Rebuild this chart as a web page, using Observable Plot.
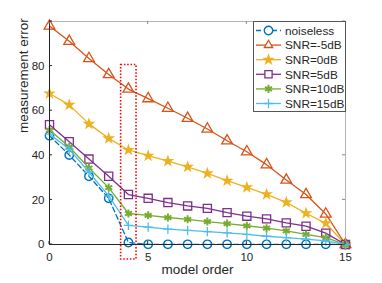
<!DOCTYPE html>
<html><head><meta charset="utf-8">
<script src="https://cdn.jsdelivr.net/npm/d3@7"></script>
<script src="https://cdn.jsdelivr.net/npm/@observablehq/plot@0.6"></script>
<style>
html,body{margin:0;padding:0;background:#fff}
#chart svg{font-family:"Liberation Sans",Arial,Helvetica,sans-serif}
</style>
</head><body><div id="chart"></div>
<script>
const modelOrder = [0,1,2,3,4,5,6,7,8,9,10,11,12,13,14,15];
const noiseless = [48.8,40.1,30.6,20.7,0.9,0.1,0.1,0.1,0.1,0.1,0.1,0.1,0.1,0.1,0.1,0];
const snrMinus5 = [98.0,91.1,83.4,76.2,69.7,65.4,61.1,56.6,51.8,46.5,41.6,35.8,28.9,22.4,13.7,0];
const snr0 = [67.7,62.6,54.1,47.6,42.4,39.8,37.4,34.8,31.9,28.6,25.6,22.5,18.9,14.0,9.5,0];
const snr5 = [53.7,46.1,38.3,30.6,22.4,20.7,18.8,17.3,16.2,14.3,12.7,11.5,9.7,8.2,5.1,0];
const snr10 = [51.3,43.8,34.3,25.5,13.9,13.1,12.1,11.3,10.3,9.4,8.4,7.3,6.1,4.5,3.1,0];
const snr15 = [49.5,42.8,32.4,21.8,8.6,7.8,6.9,6.3,5.8,5.2,4.5,3.7,3.1,2.4,1.6,0];
const seriesNames = ["noiseless","SNR=-5dB","SNR=0dB","SNR=5dB","SNR=10dB","SNR=15dB"];
const xTicks = [0,5,10,15];
const yTicks = [0,20,40,60,80];
const xLabel = "model order";
const yLabel = "measurement error";
const highlightX = [3.63,4.41];
const highlightY = [-6.7,80.5];

const seriesValues = [noiseless,snrMinus5,snr0,snr5,snr10,snr15];
const styles = [
  {color:"#0072BD", symbol:"circle", r:4.2, fill:"none", dash:"5,3", sw:1.4},
  {color:"#D95319", symbol:"triangle", r:4, fill:"none", dash:null, sw:1.3},
  {color:"#EDB120", symbol:"star", r:4, fill:"#EDB120", dash:null, sw:1},
  {color:"#7E2F8E", symbol:"square", r:4.6, fill:"none", dash:null, sw:1.3},
  {color:"#77AC30", symbol:"asterisk", r:3.8, fill:"none", dash:null, sw:2},
  {color:"#4DBEEE", symbol:"plus", r:3.1, fill:"none", dash:null, sw:1.3}
];

const rows = seriesValues.map((vals,i)=>modelOrder.map((x,j)=>({x, y:vals[j], s:seriesNames[i]})));

const marks = [Plot.frame({stroke:"#b4b4b4", strokeWidth:1})];
rows.forEach((data,i)=>{
  const st = styles[i];
  marks.push(Plot.line(data,{x:"x",y:"y",stroke:st.color,strokeWidth:1.3,strokeDasharray:st.dash||undefined}));
  marks.push(Plot.dot(data,{x:"x",y:"y",symbol:()=>st.symbol,r:st.r,stroke:st.fill==="none"?st.color:"none",fill:st.fill,strokeWidth:st.sw}));
});
marks.push(Plot.rect([{}],{x1:()=>highlightX[0],x2:()=>highlightX[1],y1:()=>highlightY[0],y2:()=>highlightY[1],fill:"none",stroke:"#ff0000",strokeWidth:1.6,strokeDasharray:"1.5,1.8"}));
marks.push(Plot.ruleX([0],{stroke:"#262626",strokeWidth:1}));
marks.push(Plot.ruleY([0],{stroke:"#262626",strokeWidth:1}));
marks.push(Plot.axisX({anchor:"bottom",ticks:xTicks,tickSize:0,tickPadding:8,fontSize:11.5,fill:"#262626",label:null}));
marks.push(Plot.axisY({anchor:"left",ticks:yTicks,tickSize:0,tickPadding:5,fontSize:11.5,fill:"#262626",label:null}));
marks.push(Plot.text([xLabel],{frameAnchor:"bottom",dy:29,text:d=>d,fontSize:13.5,fill:"#262626"}));
marks.push(Plot.text([yLabel],{frameAnchor:"left",dx:-26,rotate:-90,text:d=>d,fontSize:13.5,fill:"#262626"}));

const plot = Plot.plot({
  width:382, height:283,
  marginLeft:49, marginRight:37, marginTop:21, marginBottom:39,
  x:{domain:[0,15]}, y:{domain:[0,100]},
  style:{fontFamily:'"Liberation Sans",Arial,Helvetica,sans-serif',fontSize:"13px",color:"#262626",background:"#fff"},
  marks
});

// inward ticks on all four sides and in-plot legend
const svg = d3.select(plot);
const xs = plot.scale("x"), ys = plot.scale("y");
const g = svg.append("g");
const L = 49, R = 345, T = 21, B = 244;
xTicks.forEach(t=>{
  const px = xs.apply(t);
  g.append("line").attr("x1",px).attr("x2",px).attr("y1",B).attr("y2",B-3).attr("stroke","#262626");
  g.append("line").attr("x1",px).attr("x2",px).attr("y1",T).attr("y2",T+3).attr("stroke","#888");
});
yTicks.concat([100]).forEach(t=>{
  const py = ys.apply(t);
  g.append("line").attr("x1",L).attr("x2",L+3).attr("y1",py).attr("y2",py).attr("stroke","#262626");
  g.append("line").attr("x1",R).attr("x2",R-3).attr("y1",py).attr("y2",py).attr("stroke","#888");
});

const symMap = {circle:d3.symbolCircle,triangle:d3.symbolTriangle2,star:d3.symbolStar,square:d3.symbolSquare2,asterisk:d3.symbolAsterisk,plus:d3.symbolPlus};
const lg = svg.append("g").attr("transform","translate(253,21)");
lg.append("rect").attr("x",0.5).attr("y",0.5).attr("width",92).attr("height",90).attr("fill","#fff").attr("stroke","#555").attr("stroke-width",1);
seriesNames.forEach((name,i)=>{
  const st = styles[i];
  const cy = 9.5 + i*14.6;
  lg.append("line").attr("x1",3).attr("x2",28).attr("y1",cy).attr("y2",cy)
    .attr("stroke",st.color).attr("stroke-width",1.3).attr("stroke-dasharray",st.dash);
  lg.append("path").attr("transform",`translate(15.5,${cy})`)
    .attr("d",d3.symbol(symMap[st.symbol],Math.PI*st.r*st.r)())
    .attr("fill",st.fill==="none"?"#fff":st.fill).attr("stroke",st.fill==="none"?st.color:"none").attr("stroke-width",st.sw);
  lg.append("text").attr("x",32).attr("y",cy).attr("dy","0.36em").attr("text-anchor","start")
    .attr("font-size","11.8px").attr("fill","#262626").text(name);
});

document.getElementById("chart").append(plot);
</script>
</body></html>
